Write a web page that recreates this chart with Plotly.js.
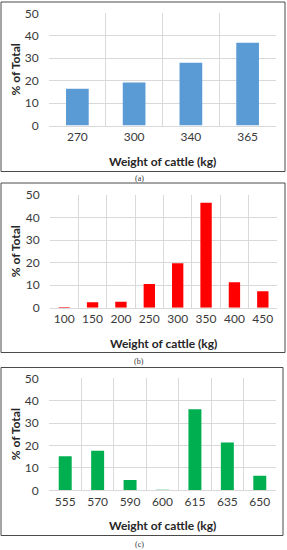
<!DOCTYPE html>
<html><head><meta charset="utf-8">
<script src="https://cdn.plot.ly/plotly-3.0.1.min.js"></script>
<style>html,body{margin:0;padding:0;background:#fff;}#chart{width:287px;height:550px;}</style>
</head><body><div id="chart"></div>
<script>
// Panel (a)
const catsA = ["270", "300", "340", "365"];
const valsA = [16.4, 19.2, 28.0, 36.9];
// Panel (b)
const catsB = ["100", "150", "200", "250", "300", "350", "400", "450"];
const valsB = [0.3, 2.4, 2.6, 10.5, 19.7, 46.6, 11.3, 7.3];
// Panel (c)
const catsC = ["555", "570", "590", "600", "615", "635", "650"];
const valsC = [15.2, 17.7, 4.6, 0.3, 36.2, 21.3, 6.5];

const yTitle = "% of Total";
const xTitle = "Weight of cattle (kg)";
const panelLabels = ["(a)", "(b)", "(c)"];

const H = 550, W = 287;
const py = v => 1 - v / H;
const px = v => v / W;

const FONT = "Lato, Open Sans, sans-serif";
const tickFont = {family: FONT, size: 12, color: "#3a3a3a"};
const titleFont = {family: FONT, size: 12, color: "#262626", weight: "bold"};

const panels = [
  {cats: catsA, vals: valsA, color: "#5B9BD5", x: [49, 276], y: [13.3, 125.5], box: [1, 2, 285, 171.5], lab: 178},
  {cats: catsB, vals: valsB, color: "#FF0000", x: [50, 277], y: [195, 307.7], box: [1, 183, 285, 352.5], lab: 361},
  {cats: catsC, vals: valsC, color: "#00B050", x: [49, 276], y: [378.3, 490.3], box: [1, 367.5, 283, 535.5], lab: 544}
];

const data = [];
const layout = {
  width: W, height: H, margin: {l: 0, r: 0, t: 0, b: 0},
  paper_bgcolor: "#fff", plot_bgcolor: "#fff", showlegend: false,
  bargap: 0.6, shapes: [], annotations: []
};

panels.forEach((p, i) => {
  const n = i === 0 ? "" : String(i + 1);
  data.push({type: "bar", x: p.cats, y: p.vals, xaxis: "x" + n, yaxis: "y" + n,
    marker: {color: p.color, line: {width: 0}}, hoverinfo: "skip"});
  layout["xaxis" + n] = {
    domain: [px(p.x[0]), px(p.x[1])], anchor: "y" + n, type: "category",
    tickson: "boundaries", showgrid: true, gridcolor: "#D9D9D9", gridwidth: 1,
    showline: true, linecolor: "#D9D9D9", linewidth: 1, zeroline: false, tickangle: 0,
    ticks: "outside", ticklen: 7, tickcolor: "rgba(0,0,0,0)", tickfont: tickFont, fixedrange: true
  };
  layout["yaxis" + n] = {
    domain: [py(p.y[1]), py(p.y[0])], anchor: "x" + n, range: [0, 50], dtick: 10,
    showgrid: true, gridcolor: "#D9D9D9", gridwidth: 1, zeroline: false,
    showline: false, ticks: "outside", ticklen: 7, tickcolor: "rgba(0,0,0,0)",
    tickfont: tickFont, fixedrange: true
  };
  layout.shapes.push({type: "rect", xref: "paper", yref: "paper",
    x0: px(p.box[0]), x1: px(p.box[2]), y0: py(p.box[3]), y1: py(p.box[1]),
    line: {color: "#4a4a4a", width: 1}, fillcolor: "rgba(0,0,0,0)"});
  layout.annotations.push({xref: "paper", yref: "paper", x: px(15), y: py((p.y[0] + p.y[1]) / 2),
    text: yTitle, textangle: -90, showarrow: false, font: titleFont, xanchor: "center", yanchor: "middle"});
  layout.annotations.push({xref: "paper", yref: "paper", x: px((p.x[0] + p.x[1]) / 2), y: py(p.y[1] + 35.5),
    text: xTitle, showarrow: false, font: titleFont, xanchor: "center", yanchor: "middle"});
  layout.annotations.push({xref: "paper", yref: "paper", x: px(139), y: py(p.lab),
    text: panelLabels[i], showarrow: false, font: {family: "Liberation Serif, serif", size: 8, color: "#333"},
    xanchor: "center", yanchor: "middle"});
});

Plotly.newPlot("chart", data, layout, {displayModeBar: false, staticPlot: true});
</script></body></html>
